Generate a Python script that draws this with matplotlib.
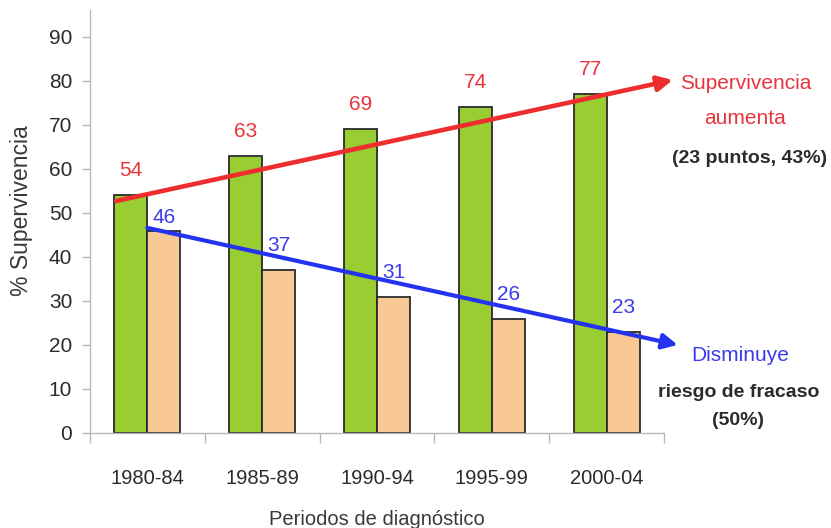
import matplotlib
matplotlib.use('Agg')
import matplotlib.pyplot as plt
import numpy as np

plt.rcParams['font.family'] = ['Liberation Sans', 'DejaVu Sans']

# survival vs. failure risk by diagnosis period
periods = ['1980-84', '1985-89', '1990-94', '1995-99', '2000-04']
survival = [54, 63, 69, 74, 77]
failure = [46, 37, 31, 26, 23]

green = '#9ACD32'
tan = '#F8C895'
red = '#EE2E2E'
red_txt = '#E8343C'
blue = '#2433F0'
blue_txt = '#3B3BEE'
dark = '#2b2b2b'
axis_grey = '#b8b8b8'

fig = plt.figure(figsize=(8.31, 5.28), dpi=100)
ax = fig.add_axes([90/831, 95/528, 574/831, 423/528])

x = np.arange(len(periods))
w = 0.287
ax.bar(x - w/2, survival, w, color=green, edgecolor=dark, linewidth=1.3, zorder=2)
ax.bar(x + w/2, failure, w, color=tan, edgecolor=dark, linewidth=1.3, zorder=2)

# value labels over the bars
for i, v in enumerate(survival):
    ax.text(x[i] - w/2, v + 4.3, str(v), color=red_txt, ha='center', va='baseline', fontsize=15, zorder=4)
for i, v in enumerate(failure):
    pad = 1.7 if i == 0 else 4.3
    ax.text(x[i] + w/2, v + pad, str(v), color=blue_txt, ha='center', va='baseline', fontsize=15, zorder=4)

# trend arrows
ax.annotate('', xy=(4.577, 80.2), xytext=(-0.274, 52.7),
            arrowprops=dict(arrowstyle='-|>,head_length=1.0,head_width=0.5', mutation_scale=9,
                            lw=3.3, color=red, shrinkA=0, shrinkB=0),
            annotation_clip=False, zorder=3)
ax.annotate('', xy=(4.62, 20.0), xytext=(0.0, 46.6),
            arrowprops=dict(arrowstyle='-|>,head_length=1.0,head_width=0.5', mutation_scale=9,
                            lw=3.0, color=blue, shrinkA=0, shrinkB=0),
            annotation_clip=False, zorder=3)

# side notes
ax.text(5.213, 78.2, 'Supervivencia', color=red_txt, ha='center', va='baseline', fontsize=15)
ax.text(5.205, 70.2, 'aumenta', color=red_txt, ha='center', va='baseline', fontsize=15)
ax.text(5.248, 61.4, '(23 puntos, 43%)', color=dark, ha='center', va='baseline', fontsize=14, fontweight='bold')
ax.text(5.161, 16.4, 'Disminuye', color=blue_txt, ha='center', va='baseline', fontsize=15)
ax.text(5.152, 8.2, 'riesgo de fracaso', color=dark, ha='center', va='baseline', fontsize=14, fontweight='bold')
ax.text(5.144, 1.8, '(50%)', color=dark, ha='center', va='baseline', fontsize=14, fontweight='bold')

ax.set_xlim(-0.5, 4.5)
ax.set_ylim(0, 96.1)
ax.set_yticks(range(0, 91, 10))
ax.set_xticks(x, periods)
ax.set_xticks(np.arange(-0.5, 5, 1), minor=True)
ax.tick_params(axis='x', which='major', length=0, pad=26, labelsize=14.5, labelcolor=dark)
ax.tick_params(axis='x', which='minor', length=7.2, width=1, color=axis_grey)
ax.tick_params(axis='y', length=5.8, width=1, pad=7, color=axis_grey, labelsize=15, labelcolor=dark)

for s in ['top', 'right']:
    ax.spines[s].set_visible(False)
for s in ['left', 'bottom']:
    ax.spines[s].set_color(axis_grey)
    ax.spines[s].set_linewidth(1)

ax.set_ylabel('% Supervivencia', fontsize=16.5, color='#3a3a3a')
ax.yaxis.set_label_coords(-0.099, 0.526)
ax.set_xlabel('Periodos de diagnóstico', fontsize=14.5, color='#3a3a3a')
ax.xaxis.set_label_coords(0.5, -0.182)

fig.savefig('out.png', dpi=100)
